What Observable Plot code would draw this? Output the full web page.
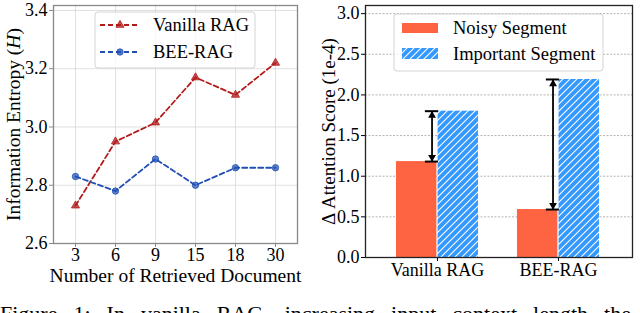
<!DOCTYPE html>
<html>
<head>
<meta charset="utf-8">
<script src="https://cdn.jsdelivr.net/npm/d3@7"></script>
<script src="https://cdn.jsdelivr.net/npm/@observablehq/plot@0.6"></script>
<style>
  html, body { margin: 0; padding: 0; background: #fff; }
  #wrap { position: relative; width: 640px; height: 313px; overflow: hidden; font-family: "Liberation Serif", "Times New Roman", serif; }
  #left, #right { position: absolute; top: 0; }
  #left { left: 0; }
  #right { left: 320px; }
  #overlay { position: absolute; left: 0; top: 0; }
  #caption { position: absolute; left: 0; top: 303px; width: 760px; white-space: nowrap; font-size: 22px; line-height: 22px; color: #000; word-spacing: 10.5px; }
  svg text { font-family: "Liberation Serif", "Times New Roman", serif; font-variant-numeric: normal; }
</style>
</head>
<body>
<div id="wrap">
  <svg width="0" height="0" style="position:absolute">
    <defs>
      <pattern id="hatch" patternUnits="userSpaceOnUse" width="7" height="7">
        <rect width="7" height="7" fill="#3399ff"></rect>
        <path d="M-1,1 l2,-2 M0,7 l7,-7 M6,8 l2,-2" stroke="#ffffff" stroke-width="1.1"></path>
      </pattern>
    </defs>
  </svg>
  <div id="left"></div>
  <div id="right"></div>
  <div id="caption">Figure 1: In vanilla RAG, increasing input context length the</div>
</div>
<script>
// ---- Data (left panel) ----
const docCounts = ["3", "6", "9", "15", "18", "30"];
const vanillaEntropy = [2.73, 2.95, 3.015, 3.17, 3.11, 3.22];
const beeEntropy = [2.83, 2.78, 2.89, 2.80, 2.86, 2.86];
const entropyTicks = [2.6, 2.8, 3.0, 3.2, 3.4];
const seriesNames = ["Vanilla RAG", "BEE-RAG"];

// ---- Data (right panel) ----
const methods = ["Vanilla RAG", "BEE-RAG"];
const noisyScore = [1.18, 0.59];
const importantScore = [1.80, 2.19];
const scoreTicks = [0, 0.5, 1.0, 1.5, 2.0, 2.5, 3.0];
const segmentNames = ["Noisy Segment", "Important Segment"];

const RED = "#b31b1b", BLUE = "#1f4fb4", ORANGE = "#ff6442";
const FAMILY = "Liberation Serif, Times New Roman, serif";
const font = {fontFamily: FAMILY, fontSize: "18px", color: "#000", background: "transparent", overflow: "visible"};

const vanillaRows = docCounts.map((d, i) => ({d, v: vanillaEntropy[i]}));
const beeRows = docCounts.map((d, i) => ({d, v: beeEntropy[i]}));

const left = Plot.plot({
  width: 320, height: 285,
  marginLeft: 53, marginRight: 23, marginTop: 5, marginBottom: 42,
  style: font,
  x: {type: "point", domain: docCounts, padding: 0.5},
  y: {domain: [2.6, 3.417]},
  marks: [
    Plot.gridX(docCounts, {stroke: "#ccc", strokeOpacity: 0.6, strokeWidth: 1}),
    Plot.gridY(entropyTicks, {stroke: "#ccc", strokeOpacity: 0.6, strokeWidth: 1}),
    Plot.axisX({tickSize: 4, tickPadding: 1, stroke: "#888", fontFamily: FAMILY, fontSize: 18, fontVariant: "normal", label: null}),
    Plot.axisX({ticks: [], label: "Number of Retrieved Document", labelAnchor: "center", labelOffset: 38, labelArrow: false, fontFamily: FAMILY, fontSize: 19.5}),
    Plot.axisY({ticks: entropyTicks, tickFormat: ".1f", tickSize: 4, tickPadding: 2, stroke: "#888", fontFamily: FAMILY, fontSize: 18, fontVariant: "normal", label: null}),
    Plot.axisY({ticks: [], label: "Information Entropy (H)", labelAnchor: "center", labelOffset: 47, labelArrow: false, fontFamily: FAMILY, fontSize: 19.5}),
    Plot.line(vanillaRows, {x: "d", y: "v", stroke: RED, strokeWidth: 1.8, strokeDasharray: "5,3"}),
    Plot.line(beeRows, {x: "d", y: "v", stroke: BLUE, strokeWidth: 1.8, strokeDasharray: "5,3"}),
    Plot.dot(vanillaRows, {x: "d", y: "v", symbol: "triangle", r: 3.0, fill: RED, fillOpacity: 0.75, stroke: RED, strokeWidth: 0.8}),
    Plot.dot(beeRows, {x: "d", y: "v", symbol: "circle", r: 3.2, fill: BLUE, fillOpacity: 0.7, stroke: BLUE, strokeWidth: 0.8}),
    Plot.frame({stroke: "#888", strokeWidth: 1.3})
  ]
});

const barRows = methods.map((m, i) => ({i, m, noisy: noisyScore[i], important: importantScore[i]}));
const BW = 0.339;
const AX = -0.045;

const right = Plot.plot({
  width: 320, height: 285,
  marginLeft: 45, marginRight: 8, marginTop: 5, marginBottom: 28,
  style: font,
  x: {domain: [-0.595, 1.612]},
  y: {domain: [0, 3.1]},
  marks: [
    Plot.gridY(scoreTicks, {stroke: "#777", strokeOpacity: 0.7, strokeDasharray: "2,1.5", strokeWidth: 0.8}),
    Plot.rectY(barRows, {x1: d => d.i - BW, x2: d => d.i, y1: 0, y2: "noisy", fill: ORANGE, insetRight: 0.6}),
    Plot.rectY(barRows, {x1: d => d.i, x2: d => d.i + BW, y1: 0, y2: "important", fill: "url(#hatch)", insetLeft: 0.6}),
    Plot.link(barRows, {x1: d => d.i + AX, x2: d => d.i + AX, y1: "noisy", y2: "important", stroke: "#000", strokeWidth: 1.8}),
    Plot.dot(barRows, {x: d => d.i + AX, y: "important", symbol: "triangle", r: 2.9, fill: "#000", stroke: "none", dy: 4.4}),
    Plot.dot(barRows, {x: d => d.i + AX, y: "noisy", symbol: "triangle", r: 2.9, fill: "#000", stroke: "none", rotate: 180, dy: -4.4}),
    Plot.ruleY(barRows, {y: "noisy", x1: d => d.i - 0.1, x2: d => d.i + 0.008, stroke: "#000", strokeWidth: 2}),
    Plot.ruleY(barRows, {y: "important", x1: d => d.i - 0.1, x2: d => d.i + 0.008, stroke: "#000", strokeWidth: 2}),
    Plot.axisX({ticks: methods.map((m, i) => i), tickFormat: i => methods[i], tickSize: 4, tickPadding: 2, label: null, fontFamily: FAMILY, fontSize: 18, fontVariant: "normal"}),
    Plot.axisY({ticks: scoreTicks, tickFormat: ".1f", tickSize: 4, tickPadding: 2, label: null, fontFamily: FAMILY, fontSize: 18, fontVariant: "normal"}),
    Plot.axisY({ticks: [], label: "Δ Attention Score (1e-4)", labelAnchor: "center", labelOffset: 44, labelArrow: false, fontFamily: FAMILY, fontSize: 19}),
    Plot.frame({stroke: "#222", strokeWidth: 1.3})
  ]
});

document.getElementById("left").appendChild(left);
document.getElementById("right").appendChild(right);

// italic H in the y label
d3.select(left).selectAll('g[aria-label="y-axis label"] text').each(function() {
  const t = d3.select(this);
  if (!/Entropy/.test(t.text())) return;
  t.text("Information Entropy (");
  t.append("tspan").attr("font-style", "italic").text("H");
  t.append("tspan").text(")");
});

// ---- Legends (overlay) ----
const ov = d3.select("#wrap").append("svg").attr("id", "overlay").attr("width", 640).attr("height", 313)
  .style("font-family", FAMILY).style("font-size", "18.5px");

// left legend
ov.append("rect").attr("x", 95).attr("y", 12).attr("width", 160).attr("height", 56).attr("rx", 3)
  .attr("fill", "#fff").attr("fill-opacity", 0.8).attr("stroke", "#d4d4d4");
const sym = d3.symbol();
[[RED, d3.symbolTriangle, 25], [BLUE, d3.symbolCircle, 52]].forEach(([c, s, y], k) => {
  ov.append("line").attr("x1", 100).attr("x2", 140).attr("y1", y).attr("y2", y)
    .attr("stroke", c).attr("stroke-width", 1.8).attr("stroke-dasharray", "5,3");
  ov.append("path").attr("d", sym.type(s).size(k === 0 ? 28 : 32)()).attr("transform", `translate(120,${y})`)
    .attr("fill", c).attr("fill-opacity", 0.75).attr("stroke", c).attr("stroke-width", 0.8);
  ov.append("text").attr("x", 153).attr("y", y).attr("dy", "0.35em").text(seriesNames[k]);
});

// right legend
ov.append("rect").attr("x", 394).attr("y", 14).attr("width", 209).attr("height", 57).attr("rx", 3)
  .attr("fill", "#fff").attr("fill-opacity", 0.8).attr("stroke", "#d4d4d4");
ov.append("rect").attr("x", 402).attr("y", 23).attr("width", 36).attr("height", 10).attr("fill", ORANGE);
ov.append("rect").attr("x", 402).attr("y", 48).attr("width", 36).attr("height", 11).attr("fill", "url(#hatch)");
ov.append("text").attr("x", 453).attr("y", 28).attr("dy", "0.35em").text(segmentNames[0]);
ov.append("text").attr("x", 453).attr("y", 54).attr("dy", "0.35em").text(segmentNames[1]);
</script>
</body>
</html>
